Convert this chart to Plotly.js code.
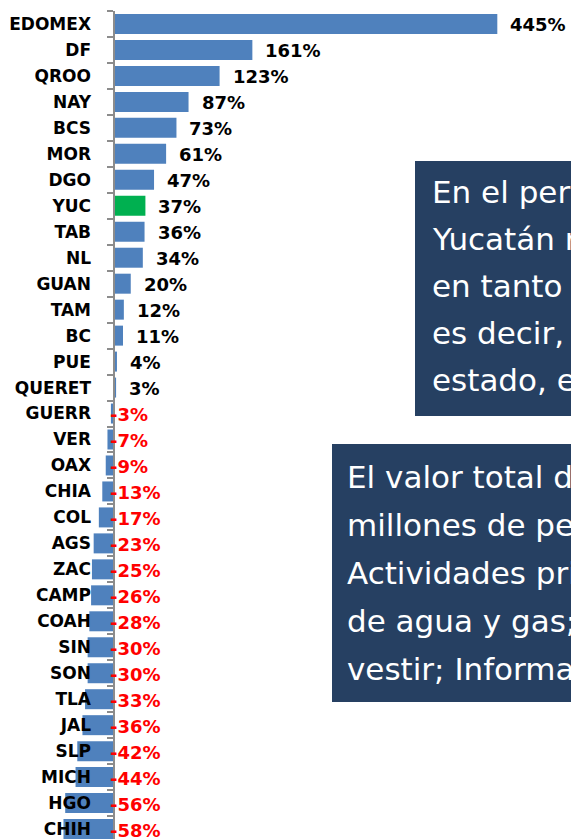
<!DOCTYPE html>
<html><head><meta charset="utf-8">
<script src="https://cdn.plot.ly/plotly-3.0.1.min.js"></script>
<style>html,body{margin:0;padding:0;background:#fff;overflow:hidden;} #chart{width:571px;height:839px;}</style>
</head><body><div id="chart"></div>
<script>
// ---- data ----
const states = ["EDOMEX","DF","QROO","NAY","BCS","MOR","DGO","YUC","TAB","NL","GUAN","TAM","BC","PUE","QUERET","GUERR","VER","OAX","CHIA","COL","AGS","ZAC","CAMP","COAH","SIN","SON","TLA","JAL","SLP","MICH","HGO","CHIH"];
const growth = [445,161,123,87,73,61,47,37,36,34,20,12,11,4,3,-3,-7,-9,-13,-17,-23,-25,-26,-28,-30,-30,-33,-36,-42,-44,-56,-58];
const highlight = "YUC";
const box1Lines = ["En el periodo", "Yucatán registró", "en tanto", "es decir,", "estado, el"];
const box2Lines = ["El valor total de", "millones de pesos", "Actividades primarias", "de agua y gas;", "vestir; Información"];

// ---- geometry ----
const W = 571, H = 839, T = 11;
const ppu = 0.8625, zeroPx = 113.5, rowPx = 25.97;
const labelPx = 91;
const xRange = [-zeroPx/ppu, (W - zeroPx)/ppu];
const yRange = [-0.5 + (H - T)/rowPx, -0.5];
const py = p => (H - p)/(H - T);
const boxColor = '#264062';

const bars = {
  type: 'bar', orientation: 'h', x: growth, y: states,
  marker: {color: states.map(s => s === highlight ? '#00B050' : '#4F81BD')},
  hoverinfo: 'skip'
};
const labelCarrier = {
  type: 'scatter', mode: 'markers', x: states.map(() => 0), y: states, yaxis: 'y2',
  marker: {opacity: 0}, hoverinfo: 'skip', showlegend: false
};

const valueNotes = growth.map((v, i) => ({
  x: Math.max(v, 0), y: states[i], xref: 'x', yref: 'y',
  text: v + '%', showarrow: false, xanchor: 'left', yanchor: 'middle',
  xshift: v > 0 ? 11 : -6, yshift: -1,
  font: {family: 'DejaVu Sans', size: 18, weight: 'bold', color: v < 0 ? '#FF0000' : '#000000'}
}));

const boxNotes = [];
box1Lines.forEach((t, i) => boxNotes.push({
  xref: 'paper', yref: 'paper', x: 430/W, y: py(192 + i*47), text: t, showarrow: false,
  xanchor: 'left', yanchor: 'middle', font: {family: 'DejaVu Sans', size: 31, color: '#FFFFFF'}
}));
box2Lines.forEach((t, i) => boxNotes.push({
  xref: 'paper', yref: 'paper', x: 345/W, y: py(477 + i*48), text: t, showarrow: false,
  xanchor: 'left', yanchor: 'middle', font: {family: 'DejaVu Sans', size: 31, color: '#FFFFFF'}
}));

const layout = {
  width: W, height: H,
  margin: {l: 0, r: 0, t: T, b: 0, pad: 0},
  paper_bgcolor: '#FFFFFF', plot_bgcolor: '#FFFFFF',
  showlegend: false, bargap: 0.23,
  xaxis: {range: xRange, visible: false, fixedrange: true},
  yaxis: {
    type: 'category', categoryorder: 'array', categoryarray: states, range: yRange,
    anchor: 'free', position: zeroPx/W, side: 'left',
    showline: true, linecolor: '#8C8C8C', linewidth: 2,
    ticks: 'outside', tickson: 'boundaries', ticklen: 6, tickwidth: 2, tickcolor: '#8C8C8C',
    showticklabels: false, showgrid: false, zeroline: false, fixedrange: true, automargin: false
  },
  yaxis2: {
    type: 'category', categoryorder: 'array', categoryarray: states, range: yRange,
    overlaying: 'y', anchor: 'free', position: labelPx/W, side: 'left',
    showline: false, ticks: '', showgrid: false, zeroline: false, fixedrange: true, automargin: false,
    tickfont: {family: 'DejaVu Sans', size: 17, weight: 'bold', color: '#000000'}
  },
  shapes: [
    {type: 'rect', xref: 'paper', yref: 'paper', x0: 415/W, x1: 1.3, y0: py(416), y1: py(161),
     fillcolor: boxColor, line: {width: 0}, layer: 'above'},
    {type: 'rect', xref: 'paper', yref: 'paper', x0: 332/W, x1: 1.3, y0: py(702), y1: py(444),
     fillcolor: boxColor, line: {width: 0}, layer: 'above'}
  ],
  annotations: valueNotes.concat(boxNotes)
};

Plotly.newPlot('chart', [bars, labelCarrier], layout, {displayModeBar: false, staticPlot: true});
</script>
</body></html>
